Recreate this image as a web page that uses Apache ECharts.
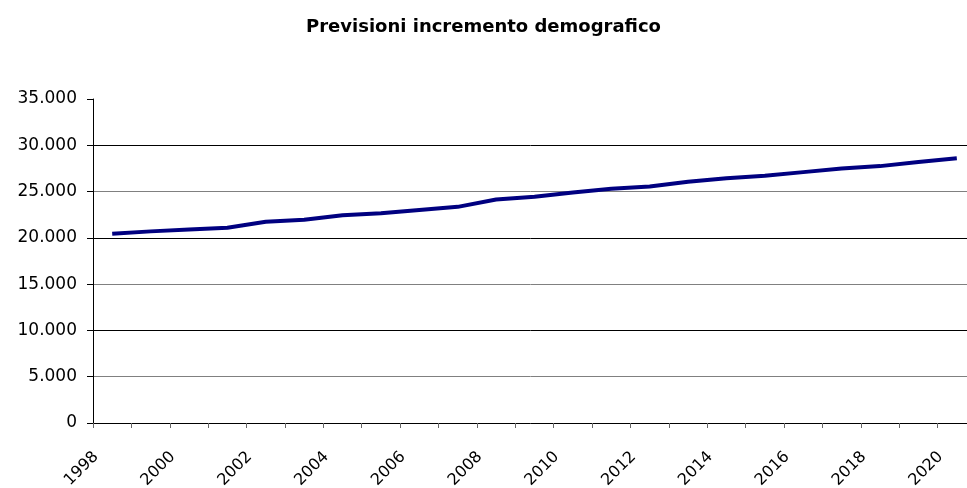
<!DOCTYPE html>
<html>
<head>
<meta charset="utf-8">
<script src="https://cdn.jsdelivr.net/npm/echarts@6/dist/echarts.min.js"></script>
<style>
  html, body { margin: 0; padding: 0; background: #fff; }
  #chart { width: 967px; height: 488px; }
</style>
</head>
<body>
<div id="chart"></div>
<script>
// Data
var years = ['1998', '1999', '2000', '2001', '2002', '2003', '2004', '2005',
    '2006', '2007', '2008', '2009', '2010', '2011', '2012', '2013', '2014',
    '2015', '2016', '2017', '2018', '2019', '2020'];
var population = [20450, 20700, 20900, 21100, 21750, 21950, 22450, 22650,
    23000, 23350, 24150, 24450, 24900, 25300, 25550, 26050, 26450,
    26700, 27100, 27500, 27750, 28200, 28600];

// thousands with a dot, as in the original (35.000)
function fmt(v) {
    return String(v).replace(/\B(?=(\d{3})+(?!\d))/g, '.');
}

var myChart = echarts.init(document.getElementById('chart'));

var option = {
    animation: false,
    backgroundColor: '#fff',
    title: {
        text: 'Previsioni incremento demografico',
        left: 'center',
        top: 13,
        padding: [5, 5, 5, 18],
        textStyle: {
            fontFamily: 'DejaVu Sans',
            fontSize: 18,
            fontWeight: 'bold',
            color: '#000'
        }
    },
    grid: {
        left: 93,
        top: 99,
        right: -9,
        bottom: 65,
        outerBoundsMode: 'none'
    },
    xAxis: {
        type: 'category',
        data: years,
        boundaryGap: true,
        axisLine: { lineStyle: { color: '#000', width: 1 } },
        axisTick: {
            show: true,
            interval: 0,
            length: 5,
            lineStyle: { color: '#666', width: 1 }
        },
        axisLabel: {
            interval: 1,
            rotate: 45,
            margin: 15,
            padding: [0, 23, 0, 0],
            fontFamily: 'DejaVu Sans',
            fontSize: 16,
            color: '#000'
        },
        splitLine: { show: false }
    },
    yAxis: {
        type: 'value',
        min: 0,
        max: 35000,
        interval: 5000,
        axisLine: { show: true, lineStyle: { color: '#000', width: 1 } },
        axisTick: { show: true, length: 6, lineStyle: { color: '#000' } },
        axisLabel: {
            margin: 16,
            fontFamily: 'DejaVu Sans',
            fontSize: 17,
            color: '#000',
            formatter: fmt
        },
        splitLine: {
            show: true,
            showMinLine: false,
            showMaxLine: false,
            lineStyle: { color: ['#808080', '#000'], width: 1 }
        }
    },
    series: [
        {
            name: 'Popolazione',
            type: 'line',
            data: population,
            symbol: 'none',
            smooth: false,
            lineStyle: { color: '#000080', width: 4 }
        }
    ]
};

myChart.setOption(option);
</script>
</body>
</html>
